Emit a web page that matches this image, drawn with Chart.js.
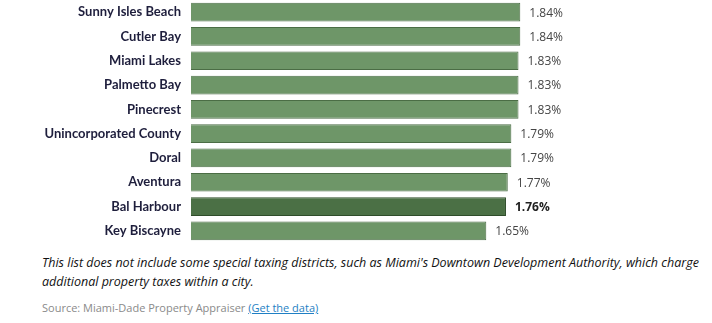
<!DOCTYPE html>
<html>
<head>
<meta charset="utf-8">
<script src="https://cdn.jsdelivr.net/npm/chart.js@4/dist/chart.umd.min.js"></script>
<style>
  html, body { margin: 0; padding: 0; background: #fff; }
  body { width: 712px; height: 323px; position: relative; overflow: hidden; }
  #c { position: absolute; left: 0; top: 0; }
  .note { position: absolute; left: 42px; top: 253px; width: 670px; font-family: "Open Sans", sans-serif; font-style: italic; font-size: 12.5px; line-height: 19px; color: #111; }
  .src { position: absolute; left: 42px; top: 300px; font-family: "Open Sans", sans-serif; font-size: 11px; color: #8a8a8a; letter-spacing: 0px; }
  .src a { color: #1f7fc4; text-decoration: underline; }
</style>
</head>
<body>
<canvas id="c" width="712" height="243"></canvas>
<div class="note">This list does not include some special taxing districts, such as Miami's Downtown Development Authority, which charge additional property taxes within a city.</div>
<div class="src">Source: Miami-Dade Property Appraiser <a>(Get the data)</a></div>
<script>
const cities = ["Sunny Isles Beach", "Cutler Bay", "Miami Lakes", "Palmetto Bay", "Pinecrest", "Unincorporated County", "Doral", "Aventura", "Bal Harbour", "Key Biscayne"];
const rates = [1.84, 1.84, 1.83, 1.83, 1.83, 1.79, 1.79, 1.77, 1.76, 1.65];
const highlight = "Bal Harbour";

const fillColors = cities.map(c => c === highlight ? "#4b7045" : "#6e9668");
const borderColors = cities.map(c => c === highlight ? "#2f4d2a" : "#4b6d45");

const valueLabels = {
  id: "valueLabels",
  afterDatasetsDraw(chart) {
    const ctx = chart.ctx;
    const meta = chart.getDatasetMeta(0);
    ctx.save();
    ctx.textBaseline = "middle";
    ctx.textAlign = "left";
    meta.data.forEach((bar, i) => {
      const bold = cities[i] === highlight;
      ctx.font = (bold ? "bold " : "") + "12px 'Open Sans', sans-serif";
      ctx.fillStyle = bold ? "#222" : "#444";
      ctx.fillText(rates[i].toFixed(2) + "%", bar.x + 9, bar.y + 1);
    });
    ctx.restore();
  }
};

new Chart(document.getElementById("c"), {
  type: "bar",
  data: {
    labels: cities,
    datasets: [{
      data: rates,
      backgroundColor: fillColors,
      borderColor: borderColors,
      borderWidth: 1,
      categoryPercentage: 0.77,
      barPercentage: 1
    }]
  },
  options: {
    indexAxis: "y",
    responsive: false,
    animation: false,
    layout: { padding: { top: 0, bottom: 0, left: 0, right: 2 } },
    plugins: { legend: { display: false }, tooltip: { enabled: false } },
    scales: {
      x: { display: false, min: 0, max: 2.9 },
      y: {
        afterFit(scale) { scale.width = 191; scale.paddingTop = 0; scale.paddingBottom = 0; },
        grid: { display: false, drawTicks: false },
        border: { display: false },
        ticks: { padding: 10, color: "#1e1e3c", font: { family: "Lato, sans-serif", size: 13, weight: "bold" } }
      }
    }
  },
  plugins: [valueLabels]
});
</script>
</body>
</html>
